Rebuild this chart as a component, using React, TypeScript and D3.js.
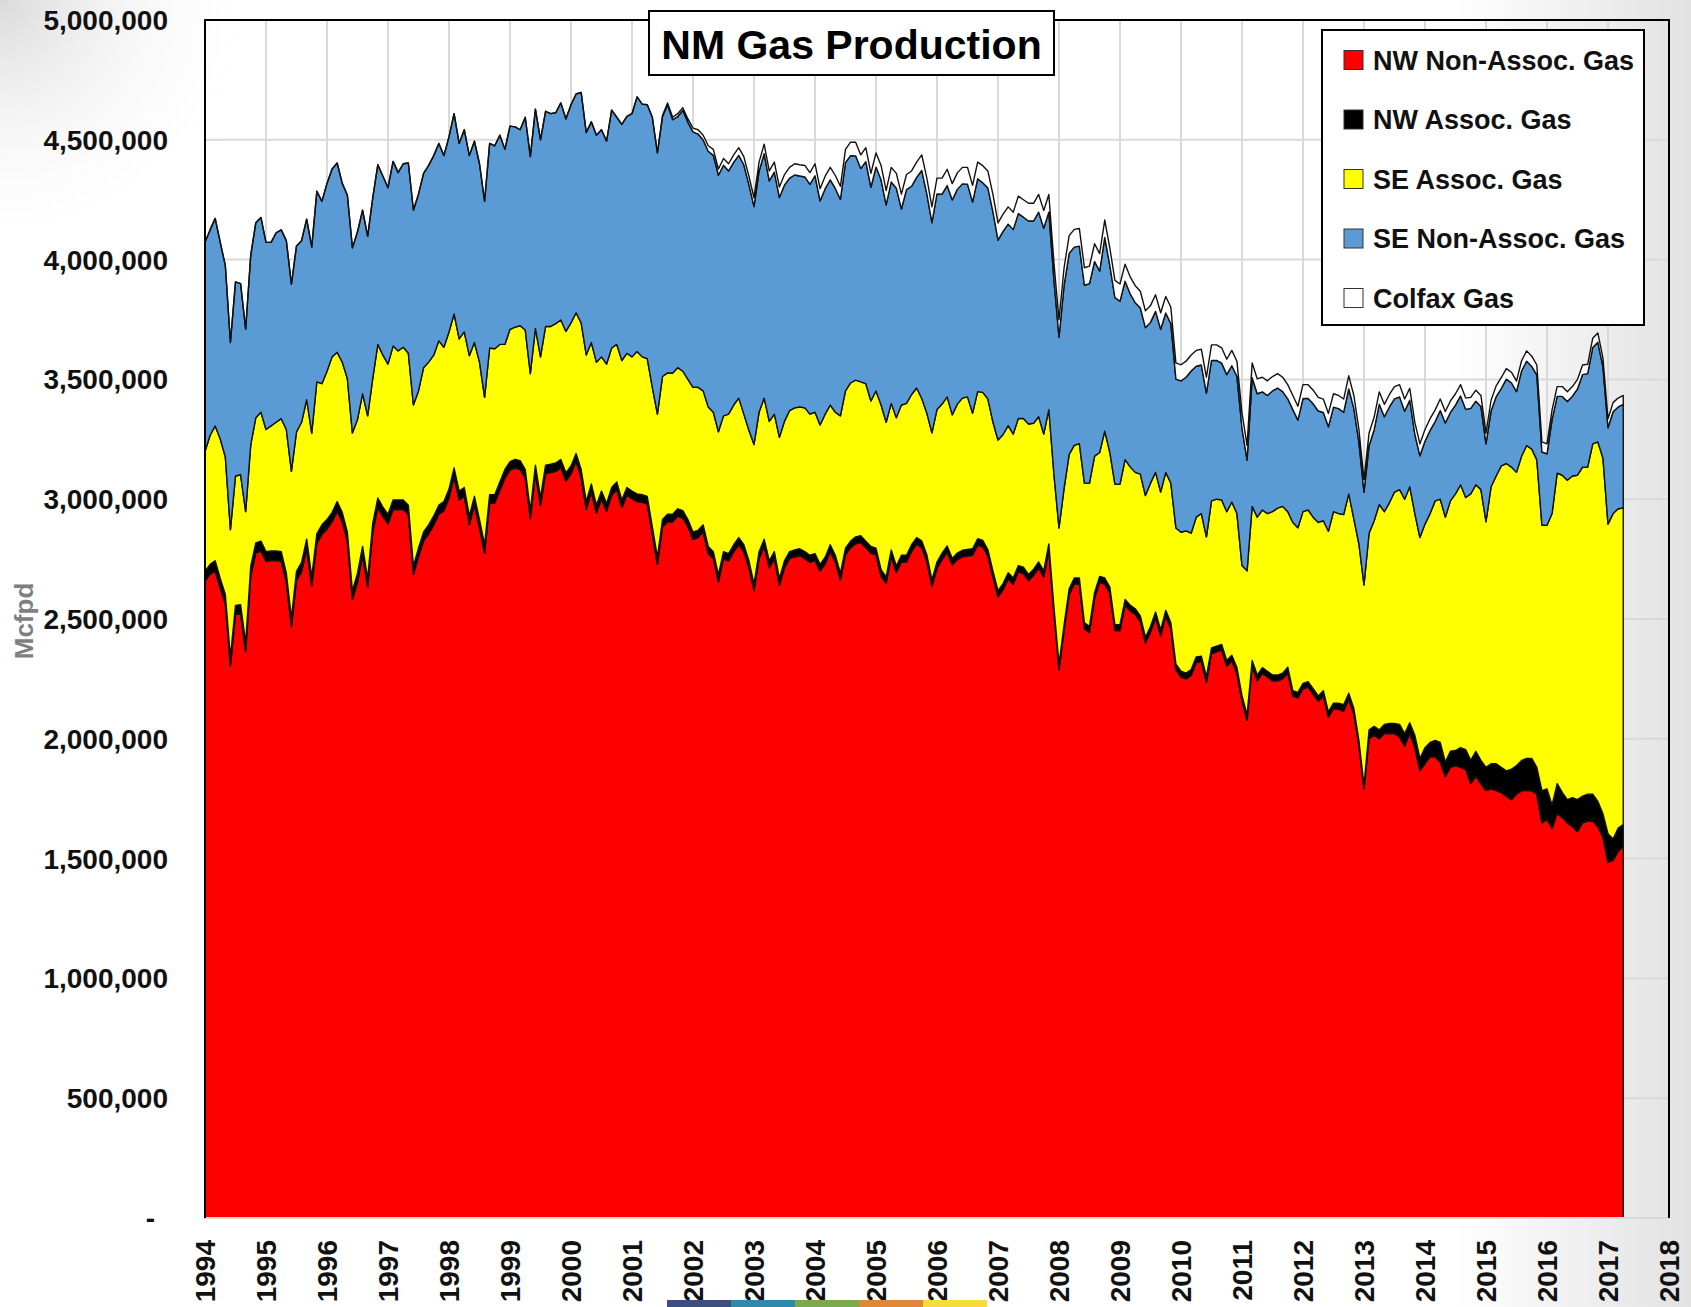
import React, { useEffect, useRef } from 'react';
import * as d3 from 'd3';

// monthly gas production, thousand Mcfpd, Jan 1994 .. Apr 2017
const nwNonAssoc = [
  2659, 2686, 2701, 2629, 2564, 2304, 2519, 2522, 2364, 2681, 2776, 2783,
  2741, 2744, 2744, 2741, 2653, 2468, 2661, 2698, 2793, 2638, 2815, 2853,
  2875, 2905, 2950, 2905, 2825, 2581, 2653, 2765, 2633, 2862, 2965, 2927,
  2897, 2957, 2957, 2957, 2937, 2686, 2760, 2826, 2855, 2892, 2937, 2952,
  3004, 3093, 2997, 3012, 2894, 2976, 2880, 2775, 2983, 2983, 3036, 3088,
  3121, 3130, 3125, 3089, 2918, 3107, 2973, 3107, 3111, 3116, 3131, 3076,
  3105, 3157, 3090, 2957, 3031, 2942, 3001, 2950, 3016, 3039, 2965, 3017,
  3002, 2990, 2987, 2980, 2854, 2728, 2884, 2906, 2906, 2929, 2921, 2885,
  2833, 2840, 2863, 2773, 2751, 2655, 2751, 2743, 2780, 2810, 2780, 2714,
  2618, 2752, 2804, 2714, 2752, 2641, 2714, 2752, 2759, 2764, 2752, 2737,
  2744, 2700, 2730, 2781, 2738, 2663, 2768, 2797, 2814, 2819, 2797, 2775,
  2768, 2678, 2649, 2760, 2694, 2738, 2738, 2782, 2812, 2798, 2741, 2636,
  2711, 2748, 2778, 2726, 2748, 2760, 2763, 2766, 2808, 2801, 2763, 2675,
  2592, 2622, 2667, 2645, 2697, 2690, 2660, 2682, 2712, 2675, 2787, 2526,
  2288, 2451, 2601, 2646, 2646, 2459, 2444, 2586, 2653, 2646, 2608, 2452,
  2452, 2557, 2534, 2519, 2489, 2400, 2445, 2505, 2430, 2512, 2460, 2288,
  2258, 2250, 2265, 2318, 2321, 2236, 2355, 2363, 2370, 2303, 2325, 2273,
  2157, 2077, 2303, 2242, 2273, 2258, 2242, 2242, 2250, 2275, 2178, 2171,
  2209, 2216, 2187, 2157, 2179, 2090, 2126, 2123, 2115, 2164, 2105, 1970,
  1791, 2000, 2015, 2000, 2022, 2022, 2022, 2007, 1970, 2022, 1963, 1866,
  1896, 1925, 1925, 1903, 1843, 1881, 1888, 1881, 1873, 1813, 1843, 1813,
  1784, 1791, 1784, 1776, 1761, 1746, 1769, 1784, 1784, 1784, 1769, 1649,
  1664, 1627, 1687, 1672, 1649, 1634, 1612, 1649, 1657, 1657, 1634, 1590,
  1485, 1493, 1530, 1552,
];

const nwAssoc = [
  40, 42, 42, 40, 38, 36, 38, 38, 36, 40, 42, 42,
  40, 40, 40, 40, 38, 36, 38, 38, 40, 38, 40, 40,
  40, 40, 40, 40, 38, 36, 38, 38, 36, 38, 40, 40,
  40, 40, 40, 40, 38, 35, 36, 37, 38, 38, 38, 38,
  38, 38, 37, 37, 36, 36, 35, 35, 36, 36, 36, 36,
  36, 36, 36, 35, 34, 35, 34, 35, 35, 35, 35, 34,
  34, 34, 34, 33, 33, 33, 33, 32, 33, 33, 32, 32,
  32, 32, 32, 32, 31, 30, 31, 31, 31, 31, 31, 30,
  30, 30, 30, 30, 30, 29, 30, 30, 30, 30, 30, 29,
  28, 29, 29, 29, 29, 28, 29, 29, 29, 29, 29, 29,
  29, 28, 28, 29, 28, 28, 28, 28, 29, 29, 28, 28,
  28, 28, 27, 28, 27, 28, 28, 28, 28, 28, 27, 27,
  27, 27, 27, 27, 27, 27, 27, 27, 27, 27, 27, 26,
  26, 26, 26, 26, 26, 26, 26, 26, 26, 26, 26, 25,
  24, 25, 25, 25, 25, 25, 25, 25, 25, 25, 25, 24,
  24, 24, 24, 24, 24, 24, 24, 24, 24, 24, 24, 24,
  24, 24, 24, 24, 24, 23, 24, 24, 24, 24, 24, 24,
  23, 23, 24, 24, 24, 24, 24, 24, 24, 24, 23, 23,
  22, 23, 22, 22, 22, 22, 23, 26, 27, 26, 22, 23,
  15, 37, 37, 37, 38, 42, 42, 53, 52, 45, 52, 52,
  67, 60, 68, 82, 60, 67, 63, 82, 82, 97, 105, 97,
  97, 105, 112, 105, 105, 127, 119, 126, 134, 134, 112, 135,
  127, 97, 126, 104, 97, 120, 134, 112, 112, 112, 105, 97,
  119, 89, 97, 90,
];

const seAssoc = [
  500, 538, 563, 582, 574, 533, 540, 542, 548, 507, 522, 538,
  510, 522, 537, 555, 600, 612, 582, 585, 582, 600, 635, 589,
  619, 649, 623, 627, 641, 659, 642, 637, 679, 604, 641, 634,
  627, 642, 622, 637, 634, 672, 656, 686, 679, 671, 686, 644,
  656, 642, 635, 649, 669, 642, 657, 615, 612, 609, 574, 522,
  552, 552, 563, 582, 572, 571, 587, 579, 575, 582, 582, 590,
  597, 587, 612, 612, 590, 597, 560, 582, 582, 574, 582, 560,
  560, 594, 575, 575, 582, 597, 597, 590, 590, 589, 582, 585,
  604, 597, 559, 582, 582, 597, 567, 582, 583, 582, 545, 545,
  582, 582, 589, 582, 574, 589, 582, 589, 593, 592, 600, 589,
  590, 582, 597, 583, 597, 657, 656, 660, 654, 642, 657, 607,
  656, 687, 645, 612, 619, 627, 634, 627, 624, 594, 591, 614,
  636, 622, 622, 599, 622, 635, 637, 566, 614, 618, 629, 621,
  629, 622, 614, 601, 614, 621, 628, 609, 606, 571, 561, 554,
  568, 569, 561, 554, 561, 583, 598, 569, 517, 613, 562, 587,
  587, 584, 577, 569, 592, 591, 598, 583, 576, 576, 583, 568,
  580, 594, 569, 583, 595, 584, 614, 613, 603, 621, 639, 643,
  543, 601, 643, 659, 658, 658, 682, 697, 696, 649, 702, 687,
  717, 716, 716, 724, 709, 754, 799, 791, 794, 832, 791, 820,
  836, 821, 858, 941, 888, 921, 966, 980, 978, 985, 925, 922,
  933, 955, 1000, 1015, 1022, 1045, 1071, 1097, 1052, 1112, 1112, 1130,
  1025, 1156, 1201, 1258, 1283, 1261, 1224, 1269, 1306, 1291, 1283, 1107,
  1100, 1216, 1296, 1324, 1333, 1343, 1354, 1373, 1365, 1462, 1500, 1485,
  1292, 1358, 1333, 1321,
];

const seNonAssoc = [
  873, 858, 866, 821, 799, 781, 810, 798, 761, 791, 814, 813,
  781, 766, 791, 788, 788, 781, 776, 758, 754, 776, 795, 761,
  784, 784, 790, 746, 766, 773, 783, 766, 749, 754, 750, 747,
  736, 771, 744, 766, 794, 813, 821, 811, 821, 833, 824, 800,
  814, 836, 816, 844, 835, 840, 828, 818, 854, 847, 873, 814,
  848, 836, 818, 888, 906, 915, 906, 898, 888, 880, 906, 887,
  910, 913, 962, 928, 921, 947, 948, 930, 993, 948, 985, 989,
  1015, 1063, 1055, 1059, 1127, 1090, 1085, 1119, 1057, 1048, 1088, 1073,
  1066, 1057, 1047, 1067, 1072, 1071, 1046, 1015, 1013, 1013, 1041, 1025,
  993, 1006, 1020, 1004, 1010, 1001, 986, 970, 972, 964, 964, 959,
  987, 935, 941, 940, 934, 903, 953, 949, 936, 890, 927, 892,
  934, 940, 907, 924, 958, 818, 892, 869, 879, 952, 915, 877,
  900, 876, 882, 897, 896, 894, 888, 881, 888, 875, 880, 878,
  834, 848, 841, 853, 855, 840, 847, 844, 854, 859, 824, 810,
  796, 847, 839, 827, 824, 826, 833, 812, 757, 808, 781, 778,
  763, 745, 722, 708, 693, 701, 671, 672, 679, 665, 666, 621,
  632, 641, 677, 630, 620, 600, 586, 579, 571, 572, 569, 573,
  573, 462, 537, 515, 493, 493, 504, 501, 479, 471, 471, 449,
  472, 465, 473, 465, 452, 436, 436, 438, 427, 438, 461, 424,
  387, 365, 380, 418, 396, 400, 389, 387, 367, 361, 331, 341,
  346, 347, 331, 370, 393, 369, 371, 371, 368, 357, 349, 347,
  325, 316, 331, 323, 352, 352, 337, 356, 352, 345, 354, 306,
  298, 392, 320, 329, 329, 333, 360, 386, 390, 402, 416, 380,
  402, 425, 425, 433,
];

const colfax = [
  0, 0, 0, 0, 0, 0, 0, 0, 0, 0, 0, 0,
  0, 0, 0, 0, 0, 0, 0, 0, 0, 0, 0, 0,
  0, 0, 0, 0, 0, 0, 0, 0, 0, 0, 0, 0,
  0, 0, 0, 0, 0, 0, 0, 0, 0, 0, 0, 0,
  0, 0, 0, 0, 0, 0, 0, 0, 0, 0, 0, 0,
  0, 0, 0, 0, 0, 0, 0, 0, 0, 0, 0, 0,
  0, 0, 0, 0, 0, 0, 0, 0, 0, 0, 0, 0,
  0, 0, 0, 0, 0, 0, 4, 8, 10, 12, 12, 14,
  16, 18, 20, 23, 25, 26, 28, 30, 31, 32, 34, 35,
  37, 38, 40, 41, 42, 44, 44, 45, 47, 47, 48, 49,
  50, 51, 52, 52, 54, 55, 55, 56, 57, 57, 58, 58,
  59, 60, 60, 61, 62, 62, 63, 64, 64, 65, 66, 66,
  66, 67, 68, 68, 69, 69, 70, 70, 70, 71, 71, 72,
  72, 72, 72, 73, 73, 73, 74, 74, 74, 74, 74, 73,
  73, 74, 74, 74, 74, 73, 73, 74, 73, 73, 72, 72,
  72, 71, 71, 71, 70, 70, 70, 69, 69, 69, 68, 68,
  67, 67, 67, 66, 66, 66, 65, 65, 64, 64, 64, 63,
  63, 62, 62, 62, 61, 61, 60, 60, 60, 59, 59, 58,
  58, 58, 57, 57, 56, 56, 56, 55, 55, 55, 54, 54,
  53, 53, 53, 52, 52, 52, 51, 51, 51, 50, 50, 50,
  49, 49, 49, 48, 48, 48, 47, 47, 47, 46, 46, 46,
  45, 45, 45, 45, 44, 44, 44, 43, 43, 43, 42, 42,
  42, 41, 41, 41, 40, 40, 40, 40, 39, 39, 39, 38,
  38, 38, 37, 37,
];

const seriesKeys = ['nwNon', 'nwAssoc', 'seAssoc', 'seNon', 'colfax'];
const seriesNames = ['NW Non-Assoc. Gas', 'NW Assoc. Gas', 'SE Assoc. Gas', 'SE Non-Assoc. Gas', 'Colfax Gas'];
const seriesColors = ['#ff0000', '#000000', '#ffff00', '#5b9bd5', '#ffffff'];

const yearLabels = ['1994', '1995', '1996', '1997', '1998', '1999', '2000', '2001', '2002', '2003', '2004', '2005',
  '2006', '2007', '2008', '2009', '2010', '2011', '2012', '2013', '2014', '2015', '2016', '2017', '2018'];
const yTicks = [0, 500, 1000, 1500, 2000, 2500, 3000, 3500, 4000, 4500, 5000];
const yTickLabels = ['-', '500,000', '1,000,000', '1,500,000', '2,000,000', '2,500,000', '3,000,000',
  '3,500,000', '4,000,000', '4,500,000', '5,000,000'];

const FONT = "'Liberation Sans', Arial, sans-serif";

function GasChart() {
  const ref = useRef<SVGSVGElement>(null);

  useEffect(() => {
    const svg = d3.select(ref.current);
    svg.selectAll('*').remove();

    const W = 1691, H = 1307;
    const left = 205, right = 1669, top = 20, bottom = 1218;

    // slide background: white with grey fade at the right edge and top-left corner
    const defs = svg.append('defs');
    const side = defs.append('linearGradient').attr('id', 'bgSide').attr('x1', '0%').attr('x2', '100%');
    side.append('stop').attr('offset', '0%').attr('stop-color', '#ffffff');
    side.append('stop').attr('offset', '86%').attr('stop-color', '#ffffff');
    side.append('stop').attr('offset', '100%').attr('stop-color', '#e2e2e2');
    const corner = defs.append('radialGradient').attr('id', 'bgCorner')
      .attr('gradientUnits', 'userSpaceOnUse').attr('cx', 0).attr('cy', 0).attr('r', 260);
    corner.append('stop').attr('offset', '0%').attr('stop-color', '#dadada').attr('stop-opacity', 1);
    corner.append('stop').attr('offset', '100%').attr('stop-color', '#ffffff').attr('stop-opacity', 0);
    svg.append('rect').attr('width', W).attr('height', H).attr('fill', 'url(#bgSide)');
    svg.append('rect').attr('width', W).attr('height', H).attr('fill', 'url(#bgCorner)');

    const x = d3.scaleLinear().domain([1994, 2018]).range([left, right]);
    const y = d3.scaleLinear().domain([0, 5000]).range([bottom, top]);

    // gridlines
    svg.append('g').selectAll('line.v')
      .data(yearLabels)
      .enter().append('line')
      .attr('x1', d => x(+d)).attr('x2', d => x(+d))
      .attr('y1', top).attr('y2', bottom)
      .attr('stroke', '#d9d9d9').attr('stroke-width', 2);
    svg.append('g').selectAll('line.h')
      .data(yTicks)
      .enter().append('line')
      .attr('x1', left).attr('x2', right)
      .attr('y1', d => y(d)).attr('y2', d => y(d))
      .attr('stroke', '#d9d9d9').attr('stroke-width', 2);

    const rows = nwNonAssoc.map((v, i) => ({
      t: 1994 + i / 12,
      nwNon: v,
      nwAssoc: nwAssoc[i],
      seAssoc: seAssoc[i],
      seNon: seNonAssoc[i],
      colfax: colfax[i],
    }));

    const stacked = d3.stack<any>().keys(seriesKeys)(rows);

    const area = d3.area<any>()
      .x(d => x(d.data.t))
      .y0(d => y(d[0]))
      .y1(d => y(d[1]));

    svg.append('g').selectAll('path')
      .data(stacked)
      .enter().append('path')
      .attr('d', area)
      .attr('fill', (d, i) => seriesColors[i])
      .attr('stroke', '#111')
      .attr('stroke-width', 1.4)
      .attr('stroke-linejoin', 'round');

    // plot frame
    svg.append('line').attr('x1', left).attr('x2', right).attr('y1', bottom).attr('y2', bottom)
      .attr('stroke', '#d9d9d9').attr('stroke-width', 2);
    svg.append('path')
      .attr('d', `M${left},${bottom}V${top}H${right}V${bottom}`)
      .attr('fill', 'none').attr('stroke', '#000').attr('stroke-width', 2);

    // y tick labels
    svg.append('g').selectAll('text')
      .data(yTicks)
      .enter().append('text')
      .attr('x', (d, i) => (i === 0 ? 155 : 168))
      .attr('y', d => y(d))
      .attr('dy', '0.36em')
      .attr('text-anchor', 'end')
      .attr('font-family', FONT)
      .attr('font-weight', 'bold')
      .attr('font-size', 28)
      .attr('fill', '#111')
      .text((d, i) => yTickLabels[i]);

    // x tick labels
    svg.append('g').selectAll('text')
      .data(yearLabels)
      .enter().append('text')
      .attr('transform', d => `translate(${x(+d) + 10},${1240}) rotate(-90)`)
      .attr('text-anchor', 'end')
      .attr('font-family', FONT)
      .attr('font-weight', 'bold')
      .attr('font-size', 28)
      .attr('fill', '#111')
      .text(d => d);

    // axis title
    svg.append('text')
      .attr('transform', 'translate(33,621) rotate(-90)')
      .attr('text-anchor', 'middle')
      .attr('font-family', FONT)
      .attr('font-weight', 'bold')
      .attr('font-size', 26)
      .attr('fill', '#7f7f7f')
      .text('Mcfpd');

    // chart title
    svg.append('rect')
      .attr('x', 649).attr('y', 11).attr('width', 405).attr('height', 64)
      .attr('fill', '#fff').attr('stroke', '#000').attr('stroke-width', 2);
    svg.append('text')
      .attr('x', 851.5).attr('y', 59)
      .attr('text-anchor', 'middle')
      .attr('font-family', FONT)
      .attr('font-weight', 'bold')
      .attr('font-size', 41)
      .attr('fill', '#000')
      .text('NM Gas Production');

    // legend
    const lg = svg.append('g');
    lg.append('rect')
      .attr('x', 1322).attr('y', 30).attr('width', 322).attr('height', 295)
      .attr('fill', '#fff').attr('stroke', '#000').attr('stroke-width', 2);
    const items = lg.selectAll('g.item')
      .data(seriesNames)
      .enter().append('g')
      .attr('transform', (d, i) => `translate(1344,${60 + i * 59.5})`);
    items.append('rect')
      .attr('x', 0).attr('y', -9.5).attr('width', 19).attr('height', 19)
      .attr('fill', (d, i) => seriesColors[i])
      .attr('stroke', '#333').attr('stroke-width', 1);
    items.append('text')
      .attr('x', 29).attr('y', 0).attr('dy', '0.36em')
      .attr('font-family', FONT)
      .attr('font-weight', 'bold')
      .attr('font-size', 27)
      .attr('fill', '#111')
      .text(d => d);

    // slide accent bar along the bottom edge
    const accent = ['#3c4f80', '#2e8aa8', '#7aaa4c', '#e0883a', '#f5dc3c'];
    svg.append('g').selectAll('rect')
      .data(accent)
      .enter().append('rect')
      .attr('x', (d, i) => 667 + i * 64)
      .attr('y', 1300)
      .attr('width', 64)
      .attr('height', 7)
      .attr('fill', d => d);
  }, []);

  return <svg ref={ref} width={1691} height={1307} style={{ position: 'absolute', left: 0, top: 0 }} />;
}

export default function App() {
  return <GasChart />;
}
